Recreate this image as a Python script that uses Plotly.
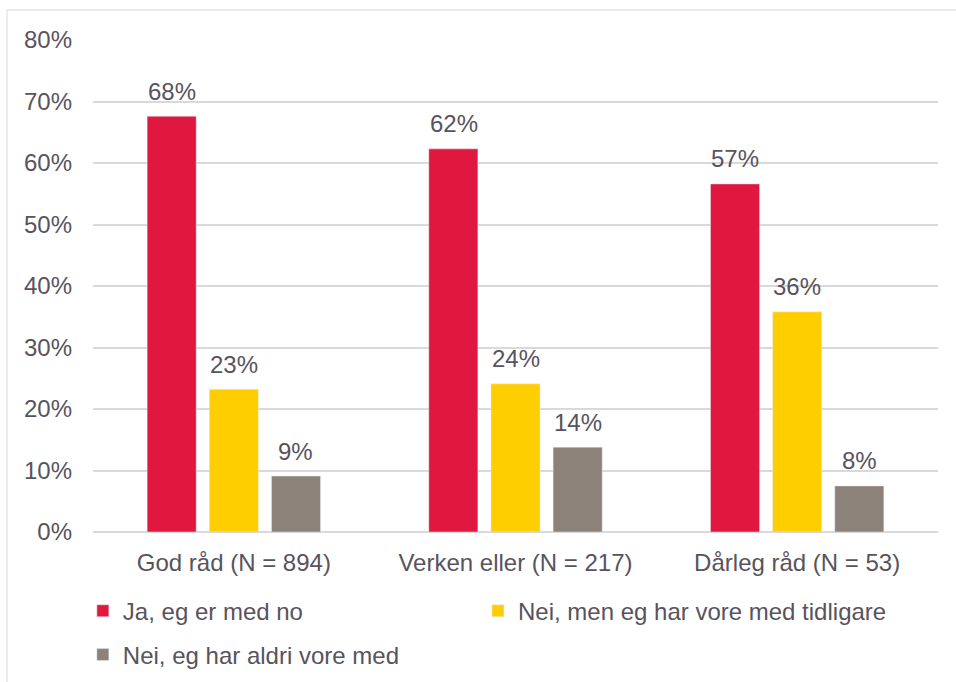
import plotly.graph_objects as go

categories = ["God råd (N = 894)", "Verken eller (N = 217)", "Dårleg råd (N = 53)"]
series_names = ["Ja, eg er med no", "Nei, men eg har vore med tidligare", "Nei, eg har aldri vore med"]
ja_no = [0.676, 0.623, 0.566]
tidlegare = [0.232, 0.241, 0.358]
aldri = [0.091, 0.138, 0.075]
labels_ja = ["68%", "62%", "57%"]
labels_tidlegare = ["23%", "24%", "36%"]
labels_aldri = ["9%", "14%", "8%"]
y_ticks = [0, 0.1, 0.2, 0.3, 0.4, 0.5, 0.6, 0.7, 0.8]

colors = ["#E0173F", "#FFCE00", "#8C8279"]
txt = "#58535D"
font = "Liberation Sans, Arial, sans-serif"
fs = 24

fig = go.Figure()
values = [ja_no, tidlegare, aldri]
texts = [labels_ja, labels_tidlegare, labels_aldri]
legends = ["legend", "legend3", "legend2"]
shifts = [-62, 0, 62]  # px offset of each bar inside its group
for name, vals, t, c, lg, dx in zip(series_names, values, texts, colors, legends, shifts):
    fig.add_trace(go.Bar(x=categories, y=vals, name=name, marker_color=c, legend=lg))
    # value labels above the bars
    for cat, v, s in zip(categories, vals, t):
        fig.add_annotation(x=cat, y=v, text=s, showarrow=False, xshift=dx, yshift=25,
                           yanchor="middle", font=dict(size=fs, color=txt))

leg = dict(orientation="h", xanchor="left", yanchor="middle",
           font=dict(size=fs, color=txt), bgcolor="rgba(0,0,0,0)")

fig.update_layout(
    width=956, height=682,
    margin=dict(l=93, r=18, t=40, b=150, autoexpand=False),
    paper_bgcolor="white", plot_bgcolor="white",
    font=dict(family=font, size=fs, color=txt),
    barmode="group", bargap=0.338, bargroupgap=0.21,
    showlegend=True,
    legend=dict(leg, x=-0.012, y=-0.161),
    legend3=dict(leg, x=0.4556, y=-0.161),
    legend2=dict(leg, x=-0.012, y=-0.25),
    xaxis=dict(showline=False, ticks="", ticklabelstandoff=14, tickfont=dict(size=fs, color=txt)),
    yaxis=dict(range=[0, 0.8], tickvals=y_ticks, tickformat=".0%", showgrid=True,
               gridcolor="#D9D9D9", gridwidth=1.5, zeroline=True, zerolinecolor="#D9D9D9",
               zerolinewidth=1.5, ticklabelstandoff=20, tickfont=dict(size=fs, color=txt)),
    shapes=[dict(type="rect", xref="paper", yref="paper", x0=-0.1018, x1=1.1, y0=-0.4, y1=1.061,
                 line=dict(color="#D9D9D9", width=1), fillcolor="rgba(0,0,0,0)", layer="below")],
)

fig.write_html("out.html", config={"displayModeBar": False},
               post_script="document.body.style.margin='0';")
